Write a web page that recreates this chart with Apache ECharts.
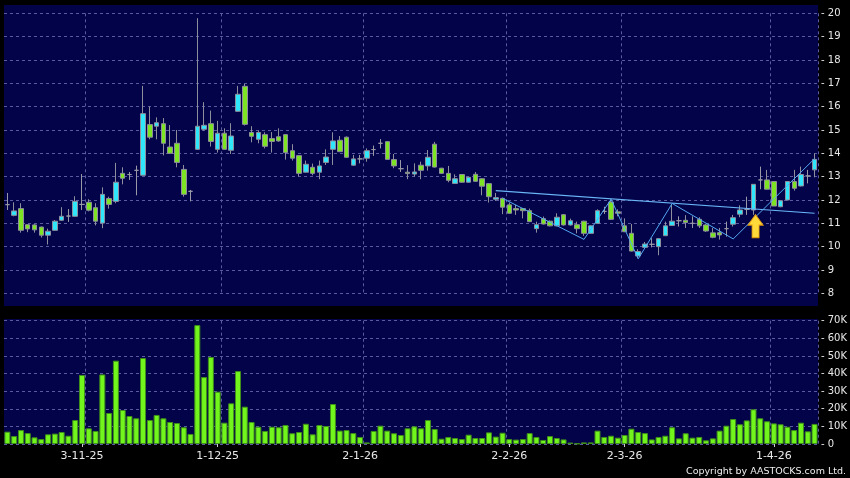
<!DOCTYPE html>
<html>
<head>
<meta charset="utf-8">
<script src="https://cdn.jsdelivr.net/npm/echarts@6/dist/echarts.min.js"></script>
<style>
  html, body { margin: 0; background: #000; }
  #chart { width: 850px; height: 478px; }
</style>
</head>
<body>
<div id="chart"></div>
<script>
// date labels under the volume panel (category index -> text)
const labelIdx = [11, 31, 52, 74, 91, 113];
const labelText = ["3-11-25", "1-12-25", "2-1-26", "2-2-26", "2-3-26", "1-4-26"];
// vertical grid lines sit on the band edge before these indices
const gridIdx = [12, 32, 53, 74, 91, 113];

// daily candles: [open, high, low, close]
const candles = [
    [11.8, 12.3, 11.57, 11.8], [11.34, 11.9, 11.3, 11.53], [11.63, 11.86, 10.6, 10.7],
    [10.94, 10.97, 10.62, 10.76], [10.93, 10.96, 10.6, 10.72], [10.84, 10.86, 10.39, 10.49],
    [10.49, 10.77, 10.09, 10.66], [10.7, 11.14, 10.68, 11.09], [11.13, 11.69, 11.1, 11.3],
    [11.31, 11.61, 11.06, 11.31], [11.3, 12.16, 11.28, 11.94], [11.81, 13.11, 11.57, 11.81],
    [11.9, 12.03, 11.51, 11.56], [11.67, 11.86, 10.91, 11.09], [11.01, 12.54, 10.79, 12.24],
    [12.06, 12.14, 11.63, 11.81], [11.94, 13.59, 11.86, 12.76], [13.14, 13.4, 12.67, 12.93],
    [13.09, 13.2, 12.86, 13.09], [13.27, 13.47, 12.2, 13.27], [13.06, 16.89, 13.04, 15.7],
    [15.23, 16.0, 14.6, 14.69], [15.16, 15.54, 14.6, 15.31], [15.27, 15.51, 13.91, 14.43],
    [14.27, 15.21, 13.97, 14.0], [14.43, 15.0, 13.4, 13.61], [13.31, 13.5, 12.14, 12.24],
    [12.37, 12.43, 11.94, 12.37], [14.17, 19.79, 14.15, 15.16], [15.03, 16.19, 14.97, 15.2],
    [15.27, 15.83, 14.29, 14.51], [14.17, 15.39, 14.03, 14.86], [14.86, 15.07, 14.15, 14.17],
    [14.13, 15.29, 13.97, 14.74], [15.8, 16.89, 15.78, 16.53], [16.87, 16.97, 15.19, 15.24],
    [14.89, 15.16, 14.47, 14.73], [14.6, 14.97, 14.43, 14.89], [14.8, 14.9, 14.21, 14.3],
    [14.63, 14.91, 14.03, 14.51], [14.71, 15.07, 14.5, 14.53], [14.8, 14.82, 13.73, 14.03],
    [14.11, 14.39, 13.69, 13.79], [13.9, 13.92, 13.01, 13.14], [13.19, 13.69, 13.17, 13.53],
    [13.4, 13.56, 13.06, 13.14], [13.19, 13.69, 12.89, 13.46], [13.61, 14.17, 13.5, 13.84],
    [14.17, 14.9, 13.5, 14.53], [14.56, 14.74, 14.05, 14.07], [14.69, 14.72, 13.8, 13.83],
    [13.49, 13.93, 13.47, 13.76], [13.76, 13.93, 13.57, 13.76], [13.79, 14.21, 13.64, 14.11],
    [14.16, 14.33, 13.89, 14.16], [14.43, 14.61, 14.21, 14.43], [14.5, 14.52, 13.72, 13.74],
    [13.73, 13.97, 13.36, 13.46], [13.34, 13.71, 13.2, 13.34], [13.19, 13.49, 12.89, 13.13],
    [13.11, 13.57, 13.0, 13.2], [13.49, 13.64, 12.89, 13.27], [13.46, 14.14, 13.26, 13.83],
    [14.39, 14.49, 13.39, 13.41], [13.36, 13.38, 13.12, 13.14], [13.14, 13.46, 12.76, 12.84],
    [12.71, 13.1, 12.7, 12.91], [13.09, 13.11, 12.74, 12.76], [12.76, 12.99, 12.74, 12.97],
    [13.1, 13.2, 12.78, 12.8], [12.91, 12.93, 12.2, 12.59], [12.7, 12.72, 11.89, 12.14],
    [12.03, 12.3, 11.96, 12.1], [12.07, 12.1, 11.39, 11.69], [11.79, 11.89, 11.41, 11.43],
    [11.63, 11.79, 11.36, 11.57], [11.63, 11.66, 11.21, 11.54], [11.54, 11.63, 11.05, 11.07],
    [10.77, 11.07, 10.6, 10.94], [11.2, 11.29, 10.95, 10.97], [11.09, 11.12, 10.87, 10.89],
    [10.89, 11.43, 10.87, 11.26], [11.37, 11.4, 10.9, 10.93], [10.93, 11.2, 10.9, 11.11],
    [10.94, 11.07, 10.57, 10.77], [11.09, 11.11, 10.46, 10.57], [10.57, 10.91, 10.55, 10.89],
    [11.0, 11.6, 10.98, 11.54], [11.51, 11.71, 11.4, 11.51], [11.91, 12.03, 11.15, 11.17],
    [11.49, 11.6, 11.3, 11.43], [10.89, 11.21, 10.62, 10.64], [10.57, 10.97, 9.79, 9.81],
    [9.6, 9.89, 9.5, 9.79], [9.97, 10.2, 9.95, 10.11], [10.1, 10.36, 9.97, 10.1],
    [10.0, 10.36, 9.63, 10.34], [10.47, 11.07, 10.45, 10.89], [10.91, 11.8, 10.9, 11.09],
    [11.11, 11.3, 10.86, 11.11], [11.13, 11.35, 10.8, 11.03], [11.0, 11.3, 10.8, 11.0],
    [11.17, 11.26, 10.8, 10.89], [10.93, 10.98, 10.63, 10.67], [10.59, 10.8, 10.36, 10.4],
    [10.6, 10.8, 10.3, 10.5], [10.77, 11.07, 10.43, 10.77], [10.96, 11.36, 10.86, 11.24],
    [11.39, 11.77, 11.26, 11.57], [11.6, 12.14, 11.36, 11.6], [11.57, 12.67, 11.36, 12.67],
    [12.86, 13.43, 12.46, 12.86], [12.86, 13.29, 12.46, 12.46], [12.79, 12.81, 11.74, 11.74],
    [11.71, 11.99, 11.69, 11.97], [12.0, 12.81, 11.98, 12.79], [12.79, 13.29, 12.4, 12.5],
    [12.6, 13.43, 12.58, 13.09], [13.03, 13.29, 12.71, 13.03], [13.29, 14.0, 12.97, 13.74],
];

// daily volume, thousands of shares
const volumes = [
    7.0, 4.5, 7.9, 6.2, 3.8, 2.8, 5.5, 5.9, 6.8, 4.7,
    13.6, 39.2, 8.9, 7.4, 39.5, 17.6, 47.3, 19.3, 15.9, 14.6,
    48.8, 13.6, 16.5, 14.6, 12.5, 11.9, 9.5, 5.7, 67.5, 38.0,
    49.4, 29.7, 12.1, 23.1, 41.4, 21.2, 12.5, 9.8, 7.4, 9.8,
    9.5, 10.8, 6.1, 6.8, 11.5, 5.5, 10.8, 10.2, 22.7, 7.6,
    7.9, 6.2, 4.0, 0.9, 7.4, 10.4, 7.6, 6.1, 5.1, 8.9,
    10.0, 8.9, 13.6, 8.5, 3.0, 4.0, 3.4, 2.8, 5.3, 3.4,
    3.4, 6.6, 4.2, 6.4, 2.8, 2.5, 2.8, 6.2, 4.0, 2.3,
    4.5, 3.4, 2.6, 0.8, 0.3, 0.9, 0.9, 7.6, 4.0, 4.7,
    3.6, 5.1, 8.7, 6.8, 6.2, 2.6, 4.0, 4.7, 9.5, 3.2,
    6.1, 3.6, 4.0, 2.1, 3.2, 7.6, 10.4, 14.2, 11.2, 13.4,
    19.7, 14.6, 12.9, 11.7, 11.2, 9.8, 7.9, 12.1, 7.2, 11.4,
];

// drawn overlays: [index, price]
const trendLine = [[72, 12.4], [119, 11.43]];
const zigzag = [[73, 12.07], [85, 10.31], [89, 12.03], [93, 9.48], [98, 11.85], [107, 10.33], [119, 13.77]];
const arrowAt = [[110, 10.88]];

const categories = candles.map((_, i) => String(i));

const font = "DejaVu Sans";
const navy = "#03034a";
const gridLine = { show: true, lineStyle: { color: "#5a5aa0", type: [3, 3], width: 1 } };

function lineData(points) {
    const arr = categories.map(() => null);
    points.forEach(([i, v]) => (arr[i] = v));
    return arr;
}

const chart = echarts.init(document.getElementById("chart"));
chart.setOption({
    animation: false,
    backgroundColor: "#000",
    title: {
        text: "Copyright by AASTOCKS.com Ltd.",
        right: 4,
        bottom: 1,
        padding: 0,
        textStyle: { color: "#eeeeee", fontSize: 9.5, fontWeight: "normal", fontFamily: font },
    },
    graphic: [
        { type: "rect", z: -100, silent: true, shape: { x: 4, y: 5, width: 814, height: 301 }, style: { fill: navy } },
        { type: "rect", z: -100, silent: true, shape: { x: 4, y: 319, width: 814, height: 125 }, style: { fill: navy } },
    ],
    grid: [
        { left: 4, right: 32, top: 13.3, height: 280 },
        { left: 4, right: 32, top: 320.7, height: 123.3 },
    ],
    xAxis: [
        {
            type: "category",
            gridIndex: 0,
            data: categories,
            axisLine: { show: false },
            axisTick: { show: false },
            axisLabel: { show: false },
            splitLine: { ...gridLine, interval: (i) => gridIdx.includes(i) },
        },
        {
            type: "category",
            gridIndex: 1,
            data: categories,
            offset: 2,
            axisLine: { show: false },
            axisTick: {
                show: true,
                alignWithLabel: true,
                length: 3,
                interval: (i) => labelIdx.includes(i),
                lineStyle: { color: "#cccccc" },
            },
            axisLabel: {
                interval: (i) => labelIdx.includes(i),
                formatter: (v, i) => labelText[labelIdx.indexOf(i)] || "",
                color: "#e8e8e8",
                fontSize: 11,
                fontFamily: font,
                margin: 5,
            },
            splitLine: { ...gridLine, interval: (i) => gridIdx.includes(i) },
        },
    ],
    yAxis: [
        {
            type: "value",
            gridIndex: 0,
            position: "right",
            min: 8,
            max: 20,
            interval: 1,
            axisLine: { show: false },
            axisTick: { show: false },
            axisLabel: { formatter: "- {value}", color: "#e8e8e8", fontSize: 10, fontFamily: font, margin: 3 },
            splitLine: gridLine,
        },
        {
            type: "value",
            gridIndex: 1,
            position: "right",
            min: 0,
            max: 70,
            interval: 10,
            axisLine: { show: false },
            axisTick: { show: false },
            axisLabel: {
                formatter: (v) => (v === 0 ? "- 0" : "- " + v + "K"),
                color: "#e8e8e8",
                fontSize: 10,
                fontFamily: font,
                margin: 3,
            },
            splitLine: gridLine,
        },
    ],
    series: [
        {
            type: "candlestick",
            xAxisIndex: 0,
            yAxisIndex: 0,
            barWidth: 5,
            data: candles.map(([o, h, l, c]) => [o, c, l, h]),
            itemStyle: {
                color: "#30e6fa",
                color0: "#7ce422",
                borderColor: "#8e8e9c",
                borderColor0: "#8e8e9c",
                borderColorDoji: "#9a9aa6",
                borderWidth: 1,
            },
        },
        {
            type: "line",
            xAxisIndex: 0,
            yAxisIndex: 0,
            data: lineData(trendLine),
            connectNulls: true,
            symbol: "none",
            lineStyle: { color: "#6ab6f6", width: 1.2 },
        },
        {
            type: "line",
            xAxisIndex: 0,
            yAxisIndex: 0,
            data: lineData(zigzag),
            connectNulls: true,
            symbol: "none",
            lineStyle: { color: "#52a8f0", width: 1 },
        },
        {
            type: "scatter",
            xAxisIndex: 0,
            yAxisIndex: 0,
            data: arrowAt,
            symbol: "path://M7.5,0 L15,10 L11,10 L11,22 L4,22 L4,10 L0,10 Z",
            symbolSize: [15, 23],
            symbolOffset: [2, 0],
            z: 5,
            itemStyle: {
                color: "#ffd93a",
                borderColor: "#e09a10",
                borderWidth: 1,
                opacity: 1,
            },
        },
        {
            type: "bar",
            xAxisIndex: 1,
            yAxisIndex: 1,
            barWidth: 6,
            data: volumes,
            itemStyle: { color: "#72f51c", borderColor: "#3f8f1a", borderWidth: 1 },
        },
    ],
});
</script>
</body>
</html>
